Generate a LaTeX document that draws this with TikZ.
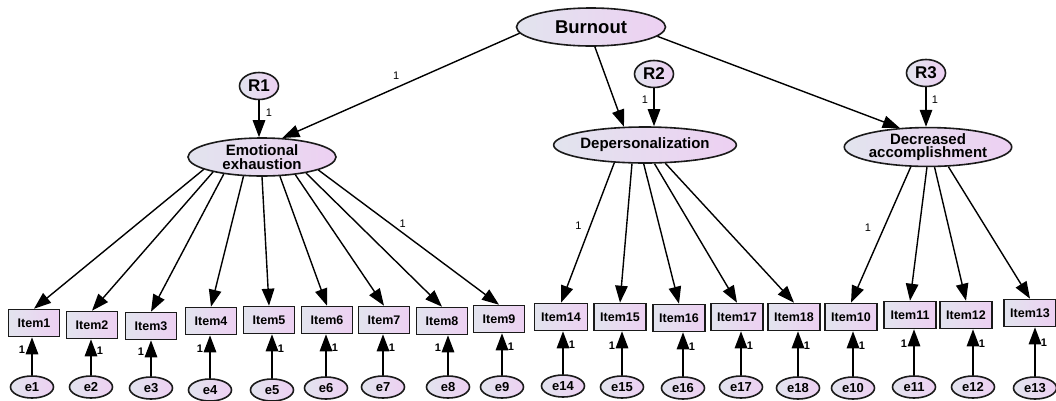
\documentclass[tikz,border=0pt]{standalone}
\usepackage{fontspec}
\setmainfont{Liberation Sans}
\usetikzlibrary{arrows.meta,shapes.geometric}
\definecolor{lgray}{HTML}{E2E4EE}
\definecolor{lpurp}{HTML}{EDD0F2}
\definecolor{edge}{HTML}{1A1A1A}
\begin{document}
\begin{tikzpicture}[x=1pt,y=-1pt,
 lat/.style={ellipse, draw=edge, line width=1.6pt, left color=lgray, right color=lpurp, inner sep=0pt, align=center},
 big/.style={lat, minimum width=148pt, minimum height=38pt, font=\bfseries\fontsize{15}{13.5}\selectfont},
 res/.style={lat, minimum width=39pt, minimum height=27pt, font=\bfseries\fontsize{17}{18}\selectfont},
 err/.style={lat, minimum width=43pt, minimum height=22pt, font=\bfseries\fontsize{13}{14}\selectfont},
 obs/.style={rectangle, draw=edge, line width=1.6pt, left color=lgray, right color=lpurp, minimum width=51pt, minimum height=27pt, inner sep=0pt, font=\bfseries\fontsize{12.5}{14}\selectfont},
 arr/.style={-{Triangle[length=17pt,width=12.5pt]}, line width=1.4pt},
 lbl/.style={font=\fontsize{11}{12}\selectfont, inner sep=0pt},
 elbl/.style={font=\bfseries\fontsize{11}{12}\selectfont, inner sep=0pt}]
\useasboundingbox (0,0) rectangle (1056,400);

% latent variables
\node[big, minimum width=149pt, font=\bfseries\fontsize{18.5}{20}\selectfont] (burnout) at (591,27) {Burnout};
\node[big] (ee) at (262,157) {Emotional\\exhaustion};
\node[big, minimum width=149pt, minimum height=36pt] (dep) at (645,145) {Depersonalization};
\node[big, minimum width=149pt] (da) at (928,147) {Decreased\\accomplishment};

% residuals
\node[res] (r1) at (259,86) {R1};
\node[res] (r2) at (654,74) {R2};
\node[res] (r3) at (926,73) {R3};

% items
\node[obs] (i1) at (34,323) {Item1};
\node[obs] (i2) at (92,325) {Item2};
\node[obs] (i3) at (151,326) {Item3};
\node[obs] (i4) at (211,321) {Item4};
\node[obs] (i5) at (269,320) {Item5};
\node[obs] (i6) at (327,320) {Item6};
\node[obs] (i7) at (384,320) {Item7};
\node[obs] (i8) at (442,321) {Item8};
\node[obs] (i9) at (499,319) {Item9};
\node[obs, minimum width=53pt] (i14) at (561,317) {Item14};
\node[obs, minimum width=52pt] (i15) at (620,317) {Item15};
\node[obs, minimum width=52pt] (i16) at (679,318) {Item16};
\node[obs, minimum width=52pt] (i17) at (737,317) {Item17};
\node[obs, minimum width=52pt] (i18) at (794,317) {Item18};
\node[obs, minimum width=52pt] (i10) at (851,317) {Item10};
\node[obs, minimum width=52pt] (i11) at (910,315) {Item11};
\node[obs, minimum width=52pt] (i12) at (966,315) {Item12};
\node[obs, minimum width=52pt] (i13) at (1030,313) {Item13};

% errors
\node[err] (e1) at (32,387) {e1};
\node[err] (e2) at (91,387) {e2};
\node[err] (e3) at (151,388) {e3};
\node[err] (e4) at (210,390) {e4};
\node[err] (e5) at (272,390) {e5};
\node[err] (e6) at (326,388) {e6};
\node[err] (e7) at (383,387) {e7};
\node[err] (e8) at (448,387) {e8};
\node[err] (e9) at (502,387) {e9};
\node[err] (e14) at (563,386) {e14};
\node[err] (e15) at (622,387) {e15};
\node[err] (e16) at (683,388) {e16};
\node[err] (e17) at (741,387) {e17};
\node[err] (e18) at (798,388) {e18};
\node[err] (e10) at (853,388) {e10};
\node[err] (e11) at (914,387) {e11};
\node[err] (e12) at (973,387) {e12};
\node[err] (e13) at (1035,388) {e13};

% second-order paths
\draw[arr] (burnout.185) -- (ee.43) node[lbl, pos=0.52, yshift=12pt] (l0) {1};
\draw[arr] (burnout.281) -- (dep.139);
\draw[arr] (burnout.352) -- (da.146);

% residual paths
\draw[arr] (r1) -- (r1 |- ee.north) node[lbl, pos=0.34, xshift=10pt] (lr1) {1};
\draw[arr] (r2) -- (r2 |- dep.north) node[lbl, pos=0.3, xshift=-9pt] (lr2) {1};
\draw[arr] (r3) -- (r3 |- da.north) node[lbl, pos=0.32, xshift=9pt] (lr3) {1};

% emotional exhaustion loadings
\draw[arr] (ee.192) -- (i1.north);
\draw[arr] (ee.197) -- (i2.north);
\draw[arr] (ee.204) -- (i3.north);
\draw[arr] (ee.226) -- (i4.north);
\draw[arr] (ee.270) -- (i5.north);
\draw[arr] (ee.313) -- (i6.north);
\draw[arr] (ee.332) -- (i7.north);
\draw[arr] (ee.340) -- (i8.north);
\draw[arr] (ee.347) -- (i9.north) node[lbl, pos=0.45, xshift=3pt, yshift=7pt] (l9) {1};

% depersonalization loadings
\draw[arr] (dep.210) -- (i14.north) node[lbl, pos=0.45, xshift=-12pt] (l14) {1};
\draw[arr] (dep.235) -- (i15.north);
\draw[arr] (dep.266) -- (i16.north);
\draw[arr] (dep.297) -- (i17.north);
\draw[arr] (dep.318) -- (i18.north);

% decreased accomplishment loadings
\draw[arr] (da.229) -- (i10.north) node[lbl, pos=0.45, xshift=-16pt] (l10) {1};
\draw[arr] (da.267) -- (i11.north);
\draw[arr] (da.288) -- (i12.north);
\draw[arr] (da.316) -- (i13.north);

% error paths
\foreach \e/\i/\s in {e1/i1/-10, e2/i2/9, e3/i3/-10, e4/i4/-10, e5/i5/9, e6/i6/9,
  e7/i7/9, e8/i8/-10, e9/i9/9, e14/i14/9, e15/i15/-10, e16/i16/9, e17/i17/9,
  e18/i18/9, e10/i10/9, e11/i11/-10, e12/i12/9, e13/i13/9}{
  \draw[arr] (\e) -- (\e |- \i.south) node[elbl, pos=0.68, xshift=\s pt] (l\e) {1};
}
\end{tikzpicture}
\end{document}
